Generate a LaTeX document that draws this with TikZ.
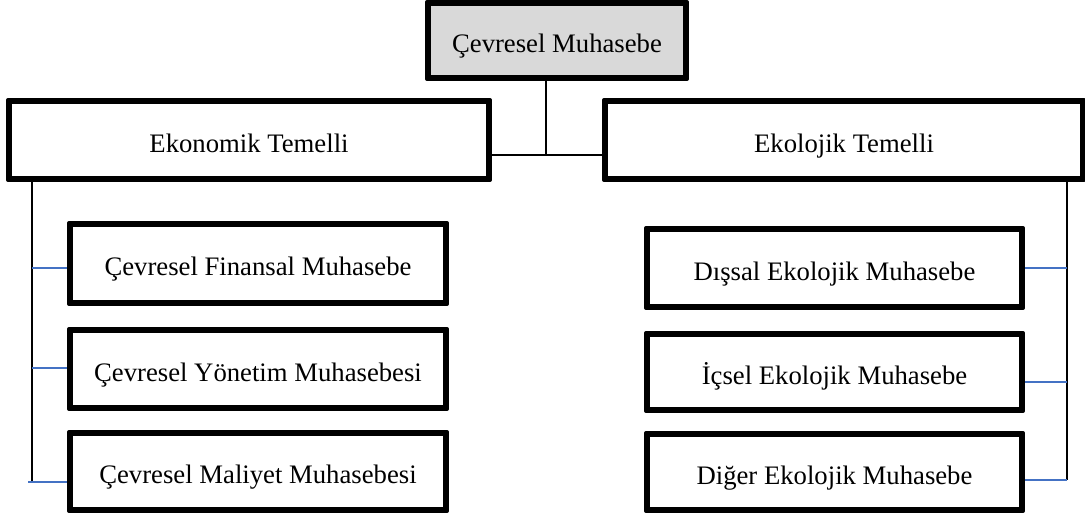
\documentclass[tikz,border=0pt]{standalone}
\usepackage{fontspec}
\setmainfont{Liberation Serif}
\begin{document}
\begin{tikzpicture}[x=1pt,y=-1pt,
  box/.style={draw=black,line width=4pt,line join=round,fill=white,inner sep=0pt,
    text height=28pt,text depth=4pt,
    font=\fontsize{26.7}{32}\selectfont},
  rootbox/.style={box,fill=black!15},
  conn/.style={draw=black,line width=1.5pt},
  tick/.style={draw=tickblue,line width=1.5pt}]
\definecolor{tickblue}{HTML}{4472C4}
\useasboundingbox (0,0) rectangle (1085,515);

% top level
\node[rootbox,minimum width=256pt,minimum height=73pt] (root) at (557,40.5) {Çevresel Muhasebe};

% second level
\node[box,minimum width=478pt,minimum height=76pt] (ek) at (249,140) {Ekonomik Temelli};
\node[box,minimum width=476pt,minimum height=76pt] (ec) at (844,140) {Ekolojik Temelli};

% economic branch
\node[box,minimum width=374pt,minimum height=77pt] (l1) at (258,263.5) {Çevresel Finansal Muhasebe};
\node[box,minimum width=374pt,minimum height=76pt] (l2) at (258,369) {Çevresel Yönetim Muhasebesi};
\node[box,minimum width=374pt,minimum height=75pt] (l3) at (258,471.5) {Çevresel Maliyet Muhasebesi};

% ecological branch
\node[box,minimum width=373pt,minimum height=76pt] (r1) at (834.5,268) {Dışsal Ekolojik Muhasebe};
\node[box,minimum width=373pt,minimum height=74pt] (r2) at (834.5,372) {İçsel Ekolojik Muhasebe};
\node[box,minimum width=373pt,minimum height=74pt] (r3) at (834.5,472) {Diğer Ekolojik Muhasebe};

% junction points
\coordinate (hub) at (546,155);
\coordinate (lt1) at (32,268);
\coordinate (lt2) at (32,368);
\coordinate (lt3) at (32,482);
\coordinate (lt3s) at (28,482);
\coordinate (rt1) at (1067,268);
\coordinate (rt2) at (1067,382);
\coordinate (rt3) at (1067,480);

% root to second level
\draw[conn] (root.south -| hub) -- (hub);
\draw[conn] (ek.east |- hub) -- (ec.west |- hub);

% trunks
\draw[conn] (ek.south -| lt1) -- (lt3);
\draw[conn] (ec.south -| rt1) -- (rt3);

% branch ticks
\draw[tick] (lt1) -- (lt1 -| l1.west);
\draw[tick] (lt2) -- (lt2 -| l2.west);
\draw[tick] (lt3s) -- (lt3 -| l3.west);
\draw[tick] (rt1) -- (rt1 -| r1.east);
\draw[tick] (rt2) -- (rt2 -| r2.east);
\draw[tick] (rt3) -- (rt3 -| r3.east);

% redraw frames over line ends
\foreach \n in {root,ek,ec,l1,l2,l3,r1,r2,r3}
  \draw[line width=4pt,line join=round] (\n.north west) rectangle (\n.south east);
\end{tikzpicture}
\end{document}
